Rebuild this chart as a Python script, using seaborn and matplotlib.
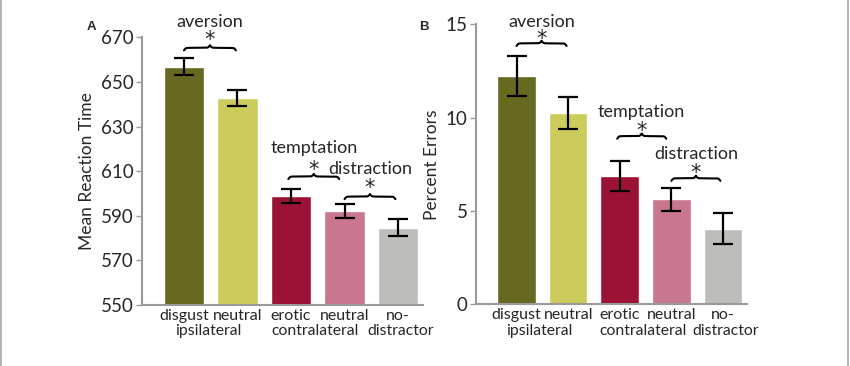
import numpy as np
import pandas as pd
import seaborn as sns
import matplotlib
matplotlib.use("Agg")
import matplotlib.pyplot as plt
from matplotlib.lines import Line2D

categories = ["disgust ipsilateral", "neutral ipsilateral", "erotic contralateral",
              "neutral contralateral", "no-distractor"]
tick_labels = ["disgust", "neutral", "erotic", "neutral", "no-"]
group_labels = ["ipsilateral", "contralateral", "distractor"]
group_pos = [0.45, 2.45, 4.05]
colors = ["#66691f", "#cccc5c", "#9b1234", "#c9768f", "#bdbdba"]

rt_mean = [656.8, 642.9, 598.7, 592.3, 584.6]
rt_err = [3.8, 3.5, 3.1, 3.2, 3.8]
pe_mean = [12.25, 10.25, 6.85, 5.62, 4.05]
pe_err = [1.07, 0.84, 0.80, 0.63, 0.83]

sns.set_theme(style="white")
plt.rcParams["font.family"] = ["Lato", "DejaVu Sans"]

fig = plt.figure(figsize=(8.5, 3.66), dpi=100)
axA = fig.add_axes([0.167, 0.1667, 0.3306, 0.7313])
axB = fig.add_axes([0.560, 0.1686, 0.3188, 0.7650])

SPINE = "#9a9a9a"


def brace(ax, x0, x1, y, h):
    """Horizontal curly brace (tips down, cusp up) between data x0..x1 at y."""
    n = 201
    xs = np.linspace(x0, x1, n)
    half = n // 2 + 1
    xh = xs[:half]
    span = x1 - x0
    beta = 60.0 / span
    yh = (1 / (1 + np.exp(-beta * (xh - xh[0]))) +
          1 / (1 + np.exp(-beta * (xh - xh[-1]))))
    yy = np.concatenate([yh, yh[-2::-1]])
    yy = y + (yy - 1.0) * h
    ax.plot(xs, yy, color="black", lw=1.5, solid_capstyle="round", clip_on=False)


def panel(ax, means, errs, ylim, yticks, ylabel, ann):
    df = pd.DataFrame({"cat": categories, "val": means})
    sns.barplot(data=df, x="cat", y="val", hue="cat", palette=colors,
                dodge=False, width=0.75, legend=False, errorbar=None, ax=ax,
                saturation=1)
    ax.errorbar(range(len(means)), means, yerr=errs, fmt="none", ecolor="black",
                elinewidth=1.6, capsize=7, capthick=1.6, zorder=5)
    ax.set_xlim(-0.785, 4.465)
    ax.set_ylim(*ylim)
    ax.set_yticks(yticks)
    ax.set_yticklabels([str(t) for t in yticks], fontsize=13.5)
    ax.set_xticks(range(5))
    ax.set_xticklabels(tick_labels, fontsize=11.5, va="top")
    ax.set_xlabel("")
    ax.set_ylabel(ylabel, fontsize=12.5, labelpad=4)
    for g, xc in zip(group_labels, group_pos):
        ax.annotate(g, xy=(xc, 0), xycoords=("data", "axes fraction"),
                    xytext=(0, -19), textcoords="offset points",
                    ha="center", va="center", fontsize=11.3)
    for s in ["top", "right"]:
        ax.spines[s].set_visible(False)
    for s in ["left", "bottom"]:
        ax.spines[s].set_color(SPINE)
        ax.spines[s].set_linewidth(1.5)
    ax.tick_params(axis="y", which="both", left=True, length=4, width=1,
                   color=SPINE, pad=2)
    ax.tick_params(axis="x", length=0, pad=3)
    for (label, x0, x1, yb, ys, yt, h) in ann:
        brace(ax, x0, x1, yb, h)
        ax.text((x0 + x1) / 2, ys, "*", ha="center", va="center", fontsize=15,
                family="DejaVu Sans")
        ax.text((x0 + x1) / 2, yt, label, ha="center", va="center", fontsize=13)


annA = [
    ("aversion", 0.0, 0.97, 665.3, 668.6, 677.0, 2.3),
    ("temptation", 1.95, 2.9, 607.6, 610.6, 620.5, 2.3),
    ("distraction", 3.0, 3.95, 598.6, 602.6, 611.0, 2.3),
]
annB = [
    ("aversion", 0.0, 0.97, 13.98, 14.22, 15.15, 0.28),
    ("temptation", 1.95, 2.9, 9.01, 9.28, 10.28, 0.28),
    ("distraction", 3.0, 3.95, 6.75, 7.02, 8.07, 0.28),
]

panel(axA, rt_mean, rt_err, (550, 670), [550, 570, 590, 610, 630, 650, 670],
      "Mean Reaction Time", annA)
panel(axB, pe_mean, pe_err, (0, 15), [0, 5, 10, 15], "Percent Errors", annB)

for letter, xl in [("A", 0.1015), ("B", 0.4935)]:
    fig.text(xl, 0.927, letter, fontsize=9.5, fontweight="bold",
             family="Liberation Sans", ha="left", va="center")

# outer frame lines (left and right)
for xf in [0.0015, 0.9975]:
    fig.add_artist(Line2D([xf, xf], [0, 1], transform=fig.transFigure,
                          color="#a8a8a8", lw=1.2))

fig.savefig("out.png", dpi=100)
